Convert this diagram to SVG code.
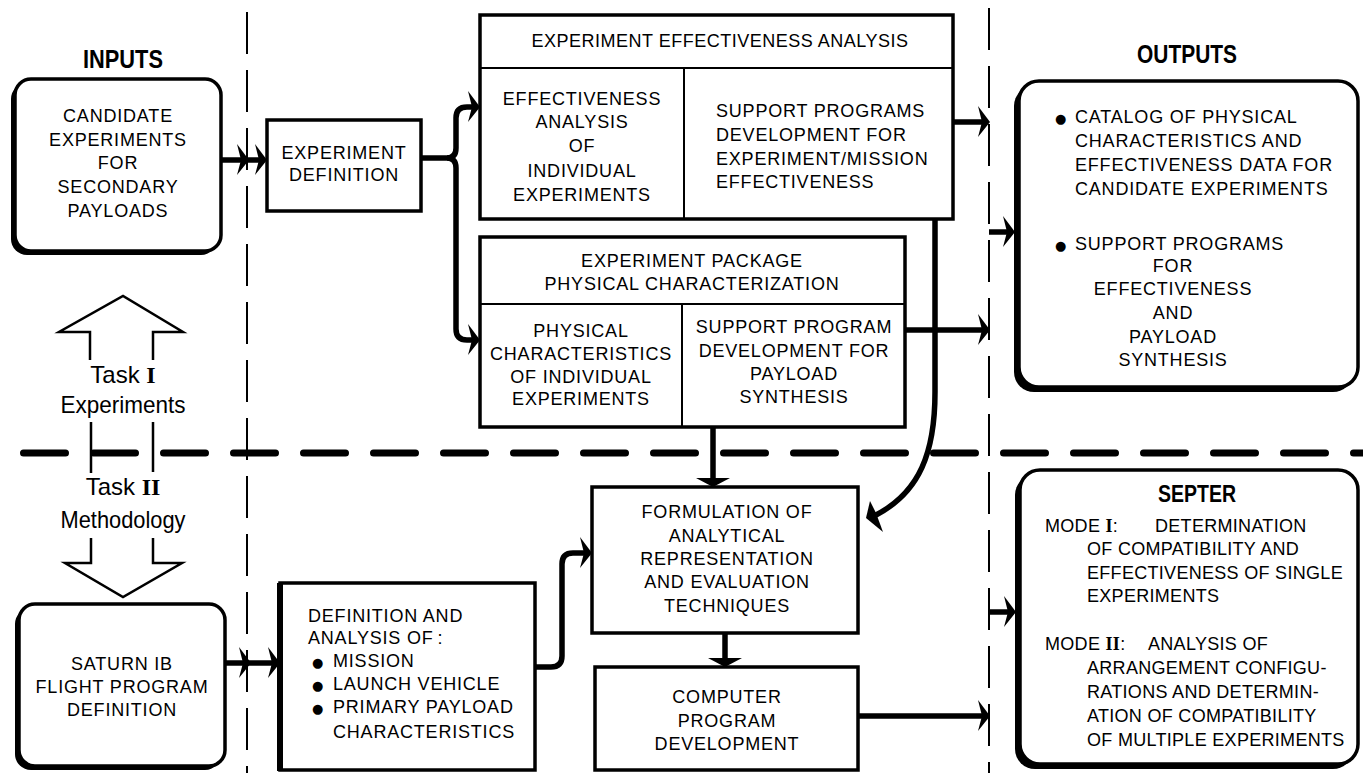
<svg xmlns="http://www.w3.org/2000/svg" xmlns:xlink="http://www.w3.org/1999/xlink" width="1363" height="773" viewBox="0 0 1363 773">
<style>
.t{font-family:"Liberation Sans",Arial,sans-serif;font-size:18px;letter-spacing:0.8px;fill:#000}
.s{letter-spacing:0.3px}
.c{text-anchor:middle}
.h{font-family:"Liberation Sans",Arial,sans-serif;font-weight:bold;fill:#000;text-anchor:middle}
.task{font-family:"Liberation Sans",Arial,sans-serif;font-size:24px;fill:#000;text-anchor:middle}
.rn{font-family:"Liberation Serif","Times New Roman",serif;font-weight:bold}
.bl{font-family:"DejaVu Sans",sans-serif;font-size:13px;letter-spacing:0}
.box{fill:#fff;stroke:#000;stroke-width:3.5}
.sh{fill:#000}
.dv{stroke:#000;stroke-width:2;fill:none}
.conn{fill:none;stroke:#000;stroke-width:5.5}
.vd{stroke:#000;stroke-width:2;stroke-dasharray:42 16;fill:none}
.hd{stroke:#000;stroke-width:7;stroke-dasharray:42 28;stroke-linecap:round;fill:none}
.hol{fill:none;stroke:#000;stroke-width:2.5;stroke-linejoin:miter}
</style>
<defs>
<path id="ar" d="M0,0 L-12,-16 L-8,0 L-12,15 Z" fill="#000"/>
<path id="ad" d="M0,0 L-17,-9 L17,-9 Z" fill="#000"/>
</defs>
<rect width="1363" height="773" fill="#fff"/>

<g id="separators">
<path class="vd" d="M247,12 V773"/>
<path class="vd" d="M989,8 V773"/>
<path class="hd" d="M23.5,453 H1363"/>
</g>

<g id="task-arrows">
<path class="hol" d="M90,360 V332 H59 L123,296 L183,332 H153 V360"/>
<path class="hol" d="M91,422 V473 M153,422 V472"/>
<path class="hol" d="M91,538 V563 H65 L123,597 L182,563 H153 V538"/>
<text class="task" x="123" y="383">Task <tspan class="rn">I</tspan></text>
<text class="task" x="123" y="413" textLength="125" lengthAdjust="spacingAndGlyphs">Experiments</text>
<text class="task" x="123" y="495">Task <tspan class="rn">II</tspan></text>
<text class="task" x="123" y="528" textLength="125" lengthAdjust="spacingAndGlyphs">Methodology</text>
</g>

<g id="inputs-title">
<text class="h" x="123" y="68" font-size="25" textLength="80" lengthAdjust="spacingAndGlyphs">INPUTS</text>
</g>

<g id="candidate">
<rect class="sh" x="11" y="83" width="206" height="172" rx="16"/>
<rect class="box" x="15" y="79" width="206" height="172" rx="16"/>
<text class="t c" x="118" y="122">CANDIDATE</text>
<text class="t c" x="118" y="146">EXPERIMENTS</text>
<text class="t c" x="118" y="169">FOR</text>
<text class="t c" x="118" y="193">SECONDARY</text>
<text class="t c" x="118" y="217">PAYLOADS</text>
</g>

<g id="exp-definition">
<rect class="box" x="267" y="120" width="154" height="91"/>
<text class="t c" x="344" y="159">EXPERIMENT</text>
<text class="t c" x="344" y="181">DEFINITION</text>
</g>

<g id="eea">
<rect class="box" x="480" y="15" width="473" height="204"/>
<path class="dv" d="M480,68 H953 M684,68 V219"/>
<text class="t c" x="720" y="47" style="letter-spacing:0.5px">EXPERIMENT  EFFECTIVENESS  ANALYSIS</text>
<text class="t c" x="582" y="105">EFFECTIVENESS</text>
<text class="t c" x="582" y="128">ANALYSIS</text>
<text class="t c" x="582" y="152">OF</text>
<text class="t c" x="582" y="177">INDIVIDUAL</text>
<text class="t c" x="582" y="201">EXPERIMENTS</text>
<text class="t" x="716" y="117">SUPPORT PROGRAMS</text>
<text class="t" x="716" y="141">DEVELOPMENT FOR</text>
<text class="t" x="716" y="165">EXPERIMENT/MISSION</text>
<text class="t" x="716" y="188">EFFECTIVENESS</text>
</g>

<g id="eppc">
<rect class="box" x="480" y="237" width="425" height="190"/>
<path class="dv" d="M480,304 H905 M682,304 V427"/>
<text class="t c" x="692" y="267">EXPERIMENT PACKAGE</text>
<text class="t c" x="692" y="290">PHYSICAL CHARACTERIZATION</text>
<text class="t c" x="581" y="337">PHYSICAL</text>
<text class="t c" x="581" y="360">CHARACTERISTICS</text>
<text class="t c" x="581" y="383">OF INDIVIDUAL</text>
<text class="t c" x="581" y="405">EXPERIMENTS</text>
<text class="t c" x="794" y="333">SUPPORT PROGRAM</text>
<text class="t c" x="794" y="357">DEVELOPMENT FOR</text>
<text class="t c" x="794" y="380">PAYLOAD</text>
<text class="t c" x="794" y="403">SYNTHESIS</text>
</g>

<g id="outputs-title">
<text class="h" x="1187" y="63" font-size="26" textLength="100" lengthAdjust="spacingAndGlyphs">OUTPUTS</text>
</g>

<g id="outputs">
<rect class="sh" x="1014" y="86" width="339" height="306" rx="20"/>
<rect class="box" x="1019" y="81" width="339" height="306" rx="20"/>
<text class="t" x="1055" y="123"><tspan class="bl">●</tspan><tspan x="1075">CATALOG OF PHYSICAL</tspan></text>
<text class="t" x="1075" y="147">CHARACTERISTICS AND</text>
<text class="t" x="1075" y="171">EFFECTIVENESS DATA FOR</text>
<text class="t" x="1075" y="195">CANDIDATE EXPERIMENTS</text>
<text class="t" x="1055" y="250"><tspan class="bl">●</tspan><tspan x="1075">SUPPORT PROGRAMS</tspan></text>
<text class="t c" x="1173" y="272">FOR</text>
<text class="t c" x="1173" y="295">EFFECTIVENESS</text>
<text class="t c" x="1173" y="319">AND</text>
<text class="t c" x="1173" y="343">PAYLOAD</text>
<text class="t c" x="1173" y="366">SYNTHESIS</text>
</g>

<g id="saturn">
<rect class="sh" x="15" y="608" width="206" height="162" rx="16"/>
<rect class="box" x="19" y="604" width="206" height="162" rx="16"/>
<text class="t c" x="122" y="670">SATURN IB</text>
<text class="t c" x="122" y="693">FLIGHT PROGRAM</text>
<text class="t c" x="122" y="716">DEFINITION</text>
</g>

<g id="def-analysis">
<rect class="box" x="280" y="583" width="255" height="187"/>
<path d="M280,583 V771" stroke="#000" stroke-width="6"/>
<text class="t" x="308" y="622">DEFINITION AND</text>
<text class="t" x="308" y="644">ANALYSIS OF<tspan dx="4">:</tspan></text>
<text class="t" x="312" y="667"><tspan class="bl">●</tspan><tspan x="333">MISSION</tspan></text>
<text class="t" x="312" y="690"><tspan class="bl">●</tspan><tspan x="333">LAUNCH VEHICLE</tspan></text>
<text class="t" x="312" y="713"><tspan class="bl">●</tspan><tspan x="333">PRIMARY PAYLOAD</tspan></text>
<text class="t" x="333" y="738">CHARACTERISTICS</text>
</g>

<g id="formulation">
<rect class="box" x="592" y="487" width="266" height="146"/>
<text class="t c" x="727" y="518">FORMULATION OF</text>
<text class="t c" x="727" y="542">ANALYTICAL</text>
<text class="t c" x="727" y="565">REPRESENTATION</text>
<text class="t c" x="727" y="588">AND EVALUATION</text>
<text class="t c" x="727" y="612">TECHNIQUES</text>
</g>

<g id="computer">
<rect class="box" x="595" y="667" width="263" height="103"/>
<text class="t c" x="727" y="703">COMPUTER</text>
<text class="t c" x="727" y="727">PROGRAM</text>
<text class="t c" x="727" y="750">DEVELOPMENT</text>
</g>

<g id="septer">
<rect class="sh" x="1015" y="475" width="338" height="294" rx="20"/>
<rect class="box" x="1020" y="470" width="338" height="294" rx="20"/>
<text class="h" x="1197" y="502" font-size="24" textLength="78" lengthAdjust="spacingAndGlyphs">SEPTER</text>
<text class="t s" x="1045" y="532">MODE <tspan class="rn">I</tspan>:<tspan x="1155">DETERMINATION</tspan></text>
<text class="t s" x="1087" y="555">OF COMPATIBILITY AND</text>
<text class="t s" x="1087" y="579">EFFECTIVENESS OF SINGLE</text>
<text class="t s" x="1087" y="602">EXPERIMENTS</text>
<text class="t s" x="1045" y="650">MODE <tspan class="rn">II</tspan>:<tspan x="1148">ANALYSIS OF</tspan></text>
<text class="t s" x="1087" y="674">ARRANGEMENT CONFIGU-</text>
<text class="t s" x="1087" y="698">RATIONS AND DETERMIN-</text>
<text class="t s" x="1087" y="722">ATION OF COMPATIBILITY</text>
<text class="t s" x="1087" y="746">OF MULTIPLE EXPERIMENTS</text>
</g>

<g id="connectors">
<path class="conn" d="M221,160 H262"/>
<use href="#ar" x="249" y="160"/>
<use href="#ar" x="267" y="160"/>
<path class="conn" d="M421,158 H448"/>
<path class="conn" d="M474,107 H467 Q456,107 456,118 V148 Q456,158 447,158 Q456,158 456,168 V329 Q456,340 467,340 H474"/>
<use href="#ar" x="480" y="107"/>
<use href="#ar" x="480" y="340"/>
<path class="conn" d="M953,122 H985"/>
<use href="#ar" x="990" y="122"/>
<path class="conn" d="M989,232 H1010"/>
<use href="#ar" x="1015" y="232"/>
<path class="conn" d="M905,330 H985"/>
<use href="#ar" x="990" y="330"/>
<path class="conn" d="M935,219 V392 C935,452 920,492 876,515"/>
<polygon points="866,518 870,501 876,513 883,532" fill="#000"/>
<path class="conn" d="M713,427 V480"/>
<use href="#ad" x="713" y="487"/>
<path class="conn" d="M225,663 H275"/>
<use href="#ar" x="251" y="663"/>
<use href="#ar" x="280" y="663"/>
<path class="conn" d="M535,667 H551 Q562,667 562,656 V564 Q562,553 573,553 H587"/>
<use href="#ar" x="592" y="553"/>
<path class="conn" d="M725,633 V660"/>
<use href="#ad" x="725" y="667"/>
<path class="conn" d="M858,716 H985"/>
<use href="#ar" x="990" y="716"/>
<path class="conn" d="M989,612 H1010"/>
<use href="#ar" x="1016" y="612"/>
</g>
</svg>
